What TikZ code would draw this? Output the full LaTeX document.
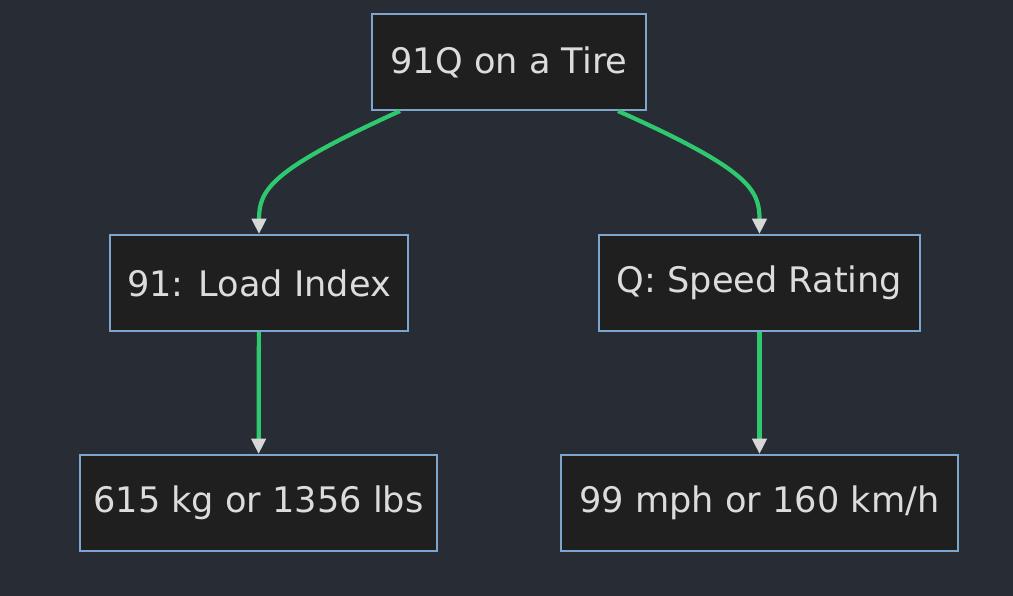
\documentclass[tikz,border=0pt]{standalone}
\usepackage{fontspec}
\setmainfont{DejaVu Sans}
\usetikzlibrary{arrows.meta, positioning}
\definecolor{bgcol}{RGB}{40,44,52}
\definecolor{boxcol}{RGB}{31,31,31}
\definecolor{edgecol}{RGB}{125,165,205}
\definecolor{linkcol}{RGB}{46,200,110}
\definecolor{tipcol}{RGB}{215,215,215}
\definecolor{txtcol}{RGB}{220,220,220}
\begin{document}
\begin{tikzpicture}[x=0.025cm, y=-0.025cm,
    box/.style={draw=edgecol, fill=boxcol, line width=1.3pt, text=txtcol,
        font=\fontsize{25}{30}\selectfont, minimum height=2.4cm, inner sep=0pt},
    link/.style={draw=linkcol, line width=3pt,
        -{Triangle[length=11pt, width=10pt, color=tipcol]}}]
    \fill[bgcol] (0,0) rectangle (1013,596);
    \node[box, minimum width=6.85cm] (tire) at (509,62) {91Q on a Tire};
    \node[box, minimum width=7.45cm] (load) at (259,283) {91: Load Index};
    \node[box, minimum width=8.03cm] (speed) at (759.5,283) {Q: Speed Rating};
    \node[box, minimum width=8.93cm] (kg) at (258.5,503) {615 kg or 1356 lbs};
    \node[box, minimum width=9.93cm] (mph) at (759.5,503) {99 mph or 160 km/h};
    \draw[link] (400,111) .. controls (270,170) and (259,190) .. (load.north);
    \draw[link] (618,111) .. controls (750,170) and (759.5,190) .. (speed.north);
    \draw[link] (load) -- (kg);
    \draw[link] (speed) -- (mph);
\end{tikzpicture}
\end{document}
